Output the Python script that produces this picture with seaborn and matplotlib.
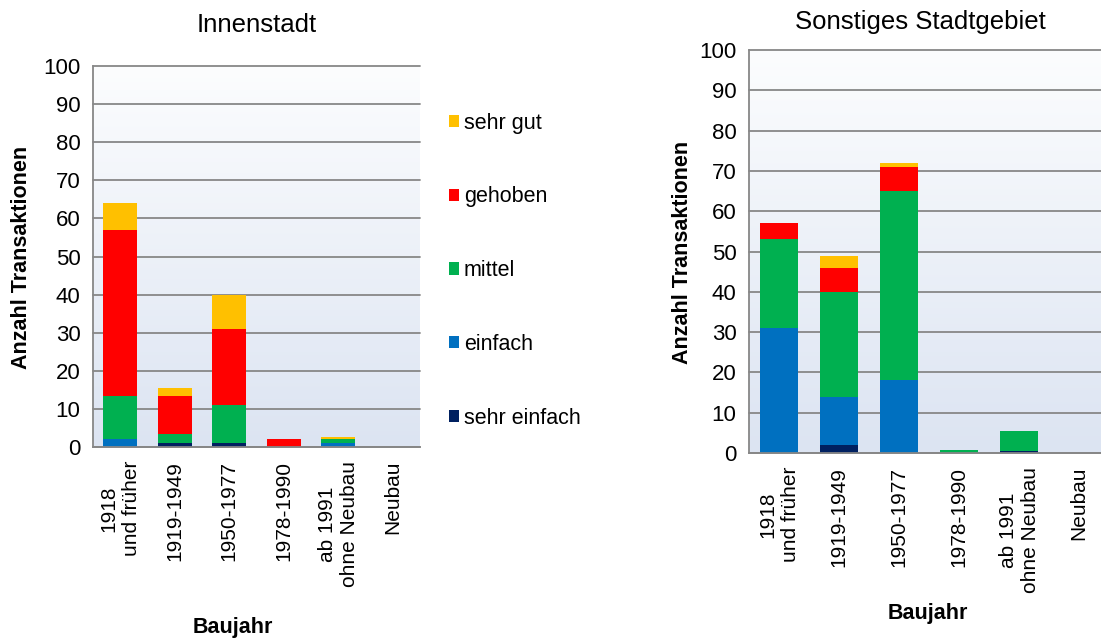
import numpy as np
import pandas as pd
import seaborn as sns
import matplotlib
matplotlib.use("Agg")
import matplotlib.pyplot as plt
from matplotlib.colors import LinearSegmentedColormap
from matplotlib.patches import Patch

# Baujahr classes and Wohnlage levels
categories = ["1918\nund früher", "1919-1949", "1950-1977", "1978-1990",
              "ab 1991\nohne Neubau", "Neubau"]
levels = ["sehr einfach", "einfach", "mittel", "gehoben", "sehr gut"]
level_colors = ["#002060", "#0070C0", "#00B050", "#FF0000", "#FFC000"]

# Innenstadt
innen_sehr_einfach = [0, 1, 1, 0, 0, 0]
innen_einfach = [2, 0, 0, 0, 1, 0]
innen_mittel = [11.5, 2.5, 10, 0, 1, 0]
innen_gehoben = [43.5, 10, 20, 2, 0, 0]
innen_sehr_gut = [7, 2, 9, 0, 0.5, 0]

# Sonstiges Stadtgebiet
sonst_sehr_einfach = [0, 2, 0, 0, 0.5, 0]
sonst_einfach = [31, 12, 18, 0, 0, 0]
sonst_mittel = [22, 26, 47, 0.7, 5, 0]
sonst_gehoben = [4, 6, 6, 0, 0, 0]
sonst_sehr_gut = [0, 3, 1, 0, 0, 0]

y_ticks = list(range(0, 101, 10))

regions = {
    "Innenstadt": [innen_sehr_einfach, innen_einfach, innen_mittel,
                   innen_gehoben, innen_sehr_gut],
    "Sonstiges Stadtgebiet": [sonst_sehr_einfach, sonst_einfach, sonst_mittel,
                              sonst_gehoben, sonst_sehr_gut],
}

rows = []
for region, series in regions.items():
    for lvl, vals in zip(levels, series):
        for cat, v in zip(categories, vals):
            rows.append({"Gebiet": region, "Baujahr": cat, "Lage": lvl, "Anzahl": v})
df = pd.DataFrame(rows)
df["Lage"] = pd.Categorical(df["Lage"], levels, ordered=True)
df = df.sort_values(["Gebiet", "Baujahr", "Lage"])
df["oben"] = df.groupby(["Gebiet", "Baujahr"], observed=True)["Anzahl"].cumsum()

sns.set_style("white")
plt.rcParams["font.family"] = ["Liberation Sans", "DejaVu Sans"]
plt.rcParams["text.color"] = "black"
plt.rcParams["axes.labelcolor"] = "black"
plt.rcParams["xtick.color"] = "black"
plt.rcParams["ytick.color"] = "black"

W, H = 1101, 638
fig = plt.figure(figsize=(W / 100, H / 100), dpi=100)

grid_col = "#878787"
bg_cmap = LinearSegmentedColormap.from_list("bg", ["#DCE4F2", "#FCFDFE"])


def px_axes(x0, x1, ytop, ybot):
    return fig.add_axes([x0 / W, 1 - ybot / H, (x1 - x0) / W, (ybot - ytop) / H])


def draw_panel(ax, region):
    sub = df[df["Gebiet"] == region]
    grad = np.linspace(0, 1, 256).reshape(-1, 1)
    ax.imshow(grad, cmap=bg_cmap, origin="lower", aspect="auto",
              extent=[-0.5, 5.5, 0, 100], zorder=0)
    # stacked bars: draw cumulative tops from the highest level downwards
    for lvl, col in reversed(list(zip(levels, level_colors))):
        part = sub[sub["Lage"] == lvl]
        sns.barplot(data=part, x="Baujahr", y="oben", order=categories,
                    color=col, saturation=1, width=0.62, errorbar=None,
                    linewidth=0, ax=ax, zorder=3)
    ax.set_xlim(-0.5, 5.5)
    ax.set_ylim(0, 100)
    ax.set_yticks(y_ticks)
    ax.set_yticklabels([str(t) for t in y_ticks], fontsize=16, color="black")
    ax.yaxis.grid(True, color=grid_col, linewidth=1.3, zorder=1)
    ax.set_axisbelow(True)
    for s in ["top", "right"]:
        ax.spines[s].set_visible(False)
    for s in ["left", "bottom"]:
        ax.spines[s].set_color(grid_col)
        ax.spines[s].set_linewidth(1.3)
        ax.spines[s].set_zorder(4)
    ax.tick_params(axis="y", direction="out", length=5, width=1.3,
                   color=grid_col, pad=4, labelcolor="black")
    ax.set_xticks(range(len(categories)))
    ax.set_xticklabels(categories, rotation=90, fontsize=15, color="black",
                       multialignment="center", va="top", ha="center")
    ax.set_xticks(np.arange(-0.5, 6.0, 1.0), minor=True)
    ax.tick_params(axis="x", which="major", length=0, pad=10)
    ax.tick_params(axis="x", which="minor", direction="out", length=5,
                   width=1.3, color=grid_col)
    ax.set_xlabel("")
    ax.set_ylabel("")
    for g in ax.get_ygridlines():
        g.set_clip_on(False)


ax1 = px_axes(93, 420, 66, 447)
draw_panel(ax1, "Innenstadt")
ax2 = px_axes(749, 1109, 50, 453)
draw_panel(ax2, "Sonstiges Stadtgebiet")

fig.text(257 / W, 1 - 25 / H, "Innenstadt", ha="center", va="center", fontsize=18.5)
fig.text(920 / W, 1 - 22 / H, "Sonstiges Stadtgebiet", ha="center", va="center",
         fontsize=18.5)

for x, y in [(22, 257), (682, 252)]:
    fig.text(x / W, 1 - y / H, "Anzahl Transaktionen", rotation=90, ha="center",
             va="center", fontsize=15.5, fontweight="bold")
for x, y in [(233, 627), (928, 614)]:
    fig.text(x / W, 1 - y / H, "Baujahr", ha="center", va="center",
             fontsize=15.5, fontweight="bold")

handles = [Patch(facecolor=c, edgecolor="none", label=l)
           for l, c in zip(levels, level_colors)][::-1]
fig.legend(handles=handles, loc="upper left",
           bbox_to_anchor=(440 / W, 1 - 104 / H), frameon=False, fontsize=15.5,
           handlelength=0.5, handleheight=0.5, handletextpad=0.2,
           labelspacing=2.45, borderaxespad=0)

fig.savefig("out.png", dpi=100)
